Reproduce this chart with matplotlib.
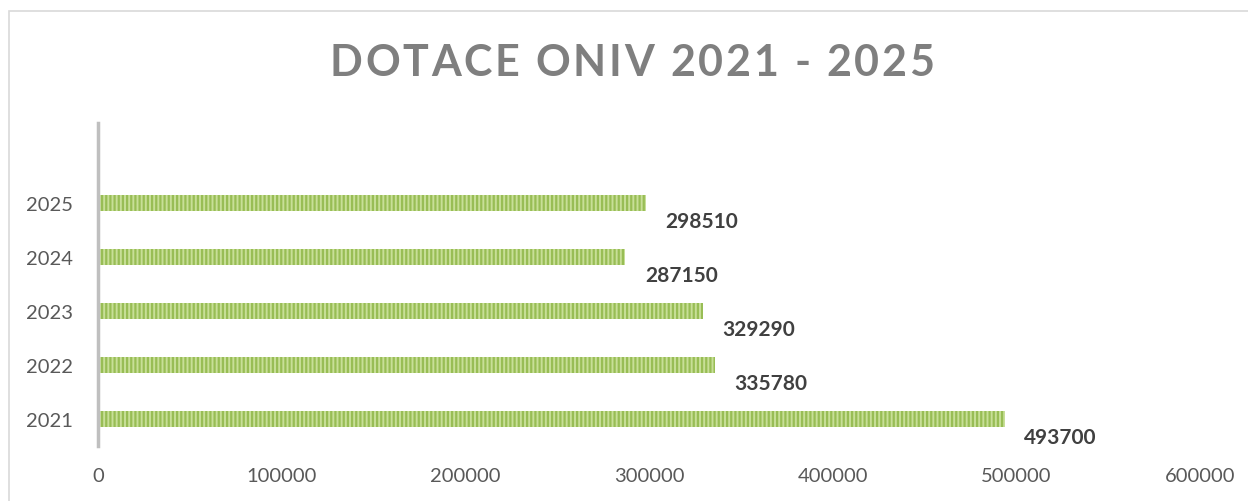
import matplotlib
matplotlib.use('Agg')
from matplotlib import pyplot as plt
from matplotlib.patches import Rectangle

years = ['2021', '2022', '2023', '2024', '2025']
amounts = [493700, 335780, 329290, 287150, 298510]
title_text = 'DOTACE ONIV 2021 - 2025'

plt.rcParams['font.family'] = ['Lato', 'DejaVu Sans']
plt.rcParams['hatch.linewidth'] = 1.6

W, H = 1248, 502
fig = plt.figure(figsize=(W / 100, H / 100), dpi=100)

# light grey chart frame
fig.patches.append(Rectangle((9 / W, -0.1), 1.2, 1 - 12 / H + 0.1, transform=fig.transFigure,
                             fill=False, edgecolor='#d9d9d9', linewidth=1.2))

ax = fig.add_axes([98 / W, 1 - 447 / H, (1200 - 98) / W, (447 - 124) / H])
pos = list(range(len(years)))
ax.barh(pos, amounts, height=0.31, color='#c8df98', edgecolor='#98bd55',
        linewidth=0, hatch='||||')

for p, v in zip(pos, amounts):
    ax.annotate(str(v), (v, p), xytext=(14, -13), textcoords='offset points',
                ha='left', va='center', fontsize=15, fontweight='bold', color='#404040')

ax.set_xlim(0, 600000)
ax.set_ylim(-0.5, 5.48)
ax.set_yticks(pos)
ax.set_yticklabels(years)
ax.set_xticks(range(0, 600001, 100000))
ax.set_xticklabels([str(x) for x in range(0, 600001, 100000)])
ax.tick_params(axis='y', length=0, pad=18, labelsize=14.5, labelcolor='#595959')
ax.tick_params(axis='x', length=0, pad=15, labelsize=14.5, labelcolor='#595959')
for s in ['top', 'right', 'bottom']:
    ax.spines[s].set_visible(False)
ax.spines['left'].set_color('#bfbfbf')
ax.spines['left'].set_linewidth(2.5)

# title with wide letter spacing, placed char by char
renderer = fig.canvas.get_renderer()
chars = [fig.text(0, 0, c, fontsize=31, fontweight='bold', color='#7f7f7f', va='center')
         for c in title_text]
widths = [t.get_window_extent(renderer).width if c != ' ' else 0 for t, c in zip(chars, title_text)]
space_w = fig.text(0, 0, 'a a', fontsize=31, fontweight='bold').get_window_extent(renderer).width - \
    fig.text(0, 0, 'aa', fontsize=31, fontweight='bold').get_window_extent(renderer).width
fig.texts = fig.texts[:len(chars)]
widths = [space_w if c == ' ' else w for c, w in zip(title_text, widths)]
target = 605.0
gap = (target - sum(widths)) / (len(title_text) - 1)
x = 632 - target / 2
for t, w in zip(chars, widths):
    t.set_position((x / W, 1 - 63 / H))
    x += w + gap

fig.savefig('out.png', dpi=100)
